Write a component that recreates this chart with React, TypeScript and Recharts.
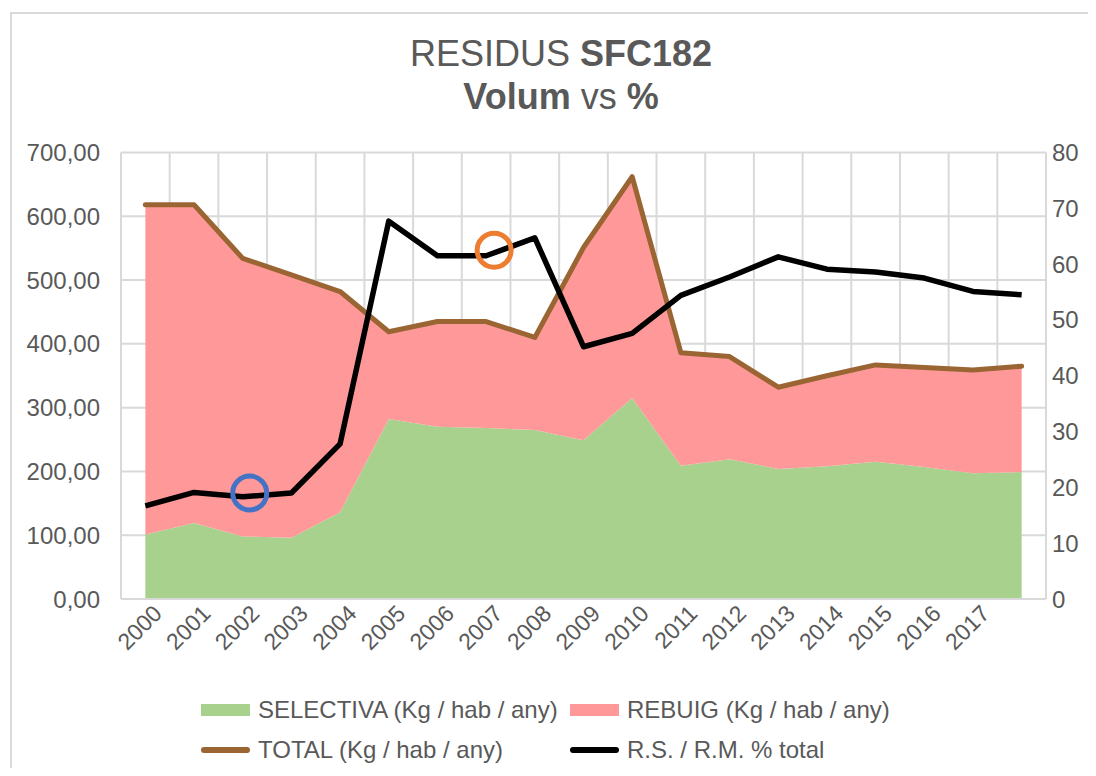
import React from "react";
import {
  ComposedChart,
  Area,
  Line,
  XAxis,
  YAxis,
  CartesianGrid,
  ReferenceDot,
} from "recharts";

const years = [
  "2000", "2001", "2002", "2003", "2004", "2005", "2006", "2007", "2008", "2009",
  "2010", "2011", "2012", "2013", "2014", "2015", "2016", "2017", "",
];
const selectiva = [101, 119, 98, 96, 136, 282, 270, 268, 265, 249, 315, 209, 219, 204, 208, 215, 207, 197, 199];
const rebuig = [517, 499, 436, 412, 346, 137, 165, 167, 145, 302, 347, 177, 161, 128, 142, 152, 156, 162, 166];
const total = [618, 618, 534, 508, 482, 419, 435, 435, 410, 551, 662, 386, 380, 332, 350, 367, 363, 359, 365];
const pctTotal = [16.7, 19.1, 18.3, 19.0, 27.8, 67.7, 61.5, 61.5, 64.7, 45.2, 47.6, 54.4, 57.7, 61.3, 59.1, 58.6, 57.5, 55.1, 54.5];

const leftTicks = [0, 100, 200, 300, 400, 500, 600, 700];
const rightTicks = [0, 10, 20, 30, 40, 50, 60, 70, 80];

const seriesNames = {
  selectiva: "SELECTIVA (Kg / hab / any)",
  rebuig: "REBUIG (Kg / hab / any)",
  total: "TOTAL (Kg / hab / any)",
  pct: "R.S. / R.M. % total",
};

const data = years.map((year, i) => ({
  year,
  selectiva: selectiva[i],
  rebuig: rebuig[i],
  total: total[i],
  pct: pctTotal[i],
}));

const FONT = "'Liberation Sans', Arial, sans-serif";
const TEXT = "#595959";
const GRID = "#d9d9d9";
const GREEN = "#a9d18e";
const PINK = "#ff9999";
const BROWN = "#9a6532";

const XTick = (props: any) => {
  const { x, y, payload } = props;
  if (!payload.value) return <g />;
  const tx = x + 18;
  const ty = y + 16;
  return (
    <text
      x={tx}
      y={ty}
      transform={`rotate(-45 ${tx} ${ty})`}
      textAnchor="end"
      fill={TEXT}
      fontSize={23}
      fontFamily={FONT}
    >
      {payload.value}
    </text>
  );
};

const ring = (color: string, dx: number) => (p: any) => (
  <circle cx={p.cx + dx} cy={p.cy} r={17} fill="none" stroke={color} strokeWidth={5} />
);

const LegendItem = ({ kind, color, label }: { kind: "area" | "line"; color: string; label: string }) => (
  <div style={{ display: "flex", alignItems: "center", height: 40 }}>
    {kind === "area" ? (
      <div style={{ width: 49, height: 12, background: color, marginRight: 8 }} />
    ) : (
      <div style={{ width: 49, height: 6, borderRadius: 3, background: color, marginRight: 8 }} />
    )}
    <span style={{ fontSize: 24, color: TEXT, fontFamily: FONT, whiteSpace: "nowrap" }}>{label}</span>
  </div>
);

export default function App() {
  return (
    <div style={{ position: "relative", width: 1088, height: 760, overflow: "hidden", fontFamily: FONT }}>
      <style>{`html, body { overflow: hidden; }`}</style>
      <div
        style={{
          position: "absolute",
          left: 2,
          top: 4,
          width: 1200,
          height: 900,
          border: `2px solid ${GRID}`,
          boxSizing: "border-box",
        }}
      />
      <div
        style={{
          position: "absolute",
          left: 253,
          width: 600,
          top: 27.5,
          textAlign: "center",
          fontSize: 36,
          lineHeight: "36px",
          color: TEXT,
          whiteSpace: "nowrap",
        }}
      >
        RESIDUS <b>SFC182</b>
      </div>
      <div
        style={{
          position: "absolute",
          left: 253,
          width: 600,
          top: 70.8,
          textAlign: "center",
          fontSize: 36,
          lineHeight: "36px",
          color: TEXT,
          whiteSpace: "nowrap",
        }}
      >
        <b>Volum</b> vs <b>%</b>
      </div>

      <div style={{ position: "absolute", left: 0, top: 0 }}>
        <ComposedChart
          width={1088}
          height={760}
          data={data}
          margin={{ top: 144.5, right: 0, bottom: 0, left: 0 }}
        >
          <CartesianGrid
            yAxisId="left"
            stroke={GRID}
            strokeWidth={2}
            verticalCoordinatesGenerator={({ offset }: any) =>
              Array.from({ length: years.length + 1 }, (_, k) => offset.left + (k * offset.width) / years.length)
            }
          />
          <XAxis
            dataKey="year"
            interval={0}
            height={169}
            tickSize={0}
            tickMargin={0}
            tickLine={false}
            axisLine={{ stroke: GRID, strokeWidth: 2 }}
            padding={{ left: 24.35, right: 24.35 }}
            tick={<XTick />}
          />
          <YAxis
            yAxisId="left"
            width={113}
            domain={[0, 700]}
            ticks={leftTicks}
            interval={0}
            axisLine={false}
            tickLine={false}
            tickSize={0}
            tickMargin={21}
            tick={{ fill: TEXT, fontSize: 24, fontFamily: FONT }}
            tickFormatter={(v: number) => v.toFixed(2).replace(".", ",")}
          />
          <YAxis
            yAxisId="right"
            orientation="right"
            width={50}
            domain={[0, 80]}
            ticks={rightTicks}
            interval={0}
            axisLine={false}
            tickLine={false}
            tickSize={0}
            tickMargin={6}
            tick={{ fill: TEXT, fontSize: 24, fontFamily: FONT, textAnchor: "start" }}
          />
          <Area
            yAxisId="left"
            type="linear"
            dataKey="selectiva"
            name={seriesNames.selectiva}
            stackId="a"
            stroke="none"
            fill={GREEN}
            fillOpacity={1}
            isAnimationActive={false}
          />
          <Area
            yAxisId="left"
            type="linear"
            dataKey="rebuig"
            name={seriesNames.rebuig}
            stackId="a"
            stroke="none"
            fill={PINK}
            fillOpacity={1}
            isAnimationActive={false}
          />
          <Line
            yAxisId="left"
            type="linear"
            dataKey="total"
            name={seriesNames.total}
            stroke={BROWN}
            strokeWidth={5}
            strokeLinecap="round"
            strokeLinejoin="round"
            dot={false}
            isAnimationActive={false}
          />
          <Line
            yAxisId="right"
            type="linear"
            dataKey="pct"
            name={seriesNames.pct}
            stroke="#000000"
            strokeWidth={5.5}
            strokeLinejoin="round"
            dot={false}
            isAnimationActive={false}
          />
          <ReferenceDot yAxisId="right" x="2002" y={19.0} shape={ring("#4472c4", 7)} ifOverflow="visible" />
          <ReferenceDot yAxisId="right" x="2007" y={62.5} shape={ring("#ed7d31", 8)} ifOverflow="visible" />
        </ComposedChart>
      </div>

      <div style={{ position: "absolute", left: 193, top: 682, display: "grid", gridTemplateColumns: "369px auto" }}>
        <LegendItem kind="area" color={GREEN} label={seriesNames.selectiva} />
        <LegendItem kind="area" color={PINK} label={seriesNames.rebuig} />
        <LegendItem kind="line" color={BROWN} label={seriesNames.total} />
        <LegendItem kind="line" color="#000000" label={seriesNames.pct} />
      </div>
    </div>
  );
}
